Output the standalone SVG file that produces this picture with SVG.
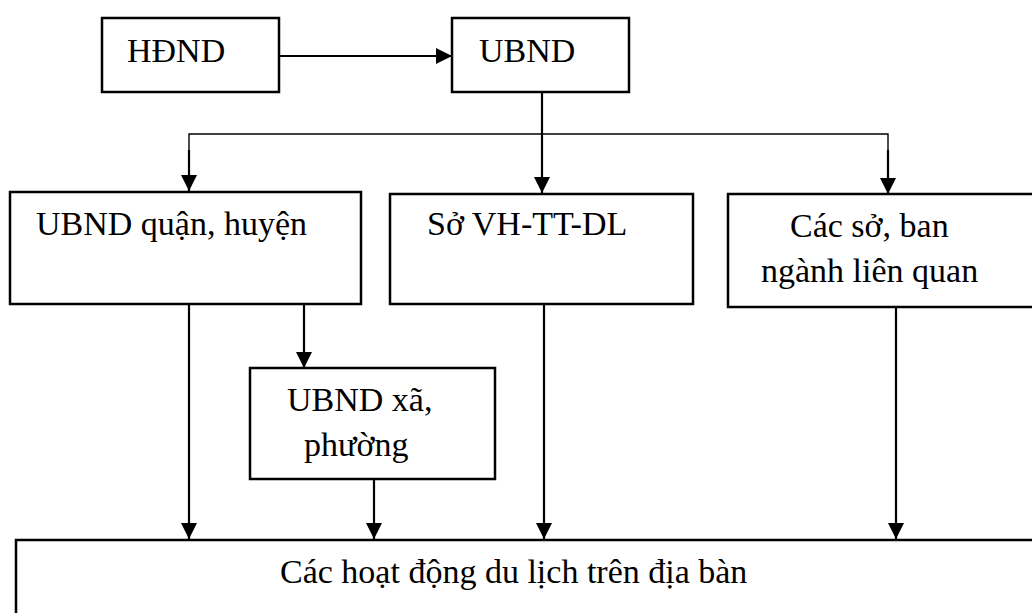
<svg xmlns="http://www.w3.org/2000/svg" width="1032" height="613" viewBox="0 0 1032 613">
<style>
.box{fill:#fff;stroke:#000;stroke-width:2.5}
.t{font-family:"Liberation Serif",serif;font-size:34px;fill:#000}
.c{fill:none;stroke:#000;stroke-width:2.2}
.thin{fill:none;stroke:#000;stroke-width:1.4}
</style>
<defs>
<marker id="ah" markerUnits="userSpaceOnUse" markerWidth="16" markerHeight="16" viewBox="0 0 16 16" refX="16" refY="8" orient="auto">
<path d="M0,0 L16,8 L0,16 z" fill="#000"/>
</marker>
</defs>
<g id="connectors">
<line class="c" x1="279" y1="56" x2="452" y2="56" marker-end="url(#ah)"/>
<line class="c" x1="542" y1="92" x2="542" y2="193" marker-end="url(#ah)"/>
<polyline class="thin" points="189,170 189,134 888,134 888,170"/>
<line class="c" x1="189" y1="150" x2="189" y2="191" marker-end="url(#ah)"/>
<line class="c" x1="888" y1="150" x2="888" y2="194" marker-end="url(#ah)"/>
<line class="c" x1="189" y1="304" x2="189" y2="539" marker-end="url(#ah)"/>
<line class="c" x1="304" y1="304" x2="304" y2="368" marker-end="url(#ah)"/>
<line class="c" x1="374" y1="479" x2="374" y2="539" marker-end="url(#ah)"/>
<line class="c" x1="544" y1="304" x2="544" y2="539" marker-end="url(#ah)"/>
<line class="c" x1="896" y1="307" x2="896" y2="539" marker-end="url(#ah)"/>
</g>
<g id="hdnd">
<rect class="box" x="102" y="18" width="177" height="74"/>
<text class="t" x="127" y="62">HĐND</text>
</g>
<g id="ubnd">
<rect class="box" x="452" y="18" width="177" height="74"/>
<text class="t" x="479" y="62">UBND</text>
</g>
<g id="ubnd-quan">
<rect class="box" x="10" y="192" width="351" height="112"/>
<text class="t" x="36" y="235">UBND quận, huyện</text>
</g>
<g id="so-vh">
<rect class="box" x="390" y="194" width="303" height="110"/>
<text class="t" x="427" y="235">Sở VH-TT-DL</text>
</g>
<g id="cac-so">
<rect class="box" x="728" y="194" width="320" height="113"/>
<text class="t" x="790" y="237">Các sở, ban</text>
<text class="t" x="761" y="282">ngành liên quan</text>
</g>
<g id="ubnd-xa">
<rect class="box" x="250" y="368" width="245" height="111"/>
<text class="t" x="287" y="411">UBND xã,</text>
<text class="t" x="304" y="456">phường</text>
</g>
<g id="hoat-dong">
<rect class="box" x="16" y="540" width="1030" height="100"/>
<text class="t" x="280" y="583">Các hoạt động du lịch trên địa bàn</text>
</g>
</svg>
